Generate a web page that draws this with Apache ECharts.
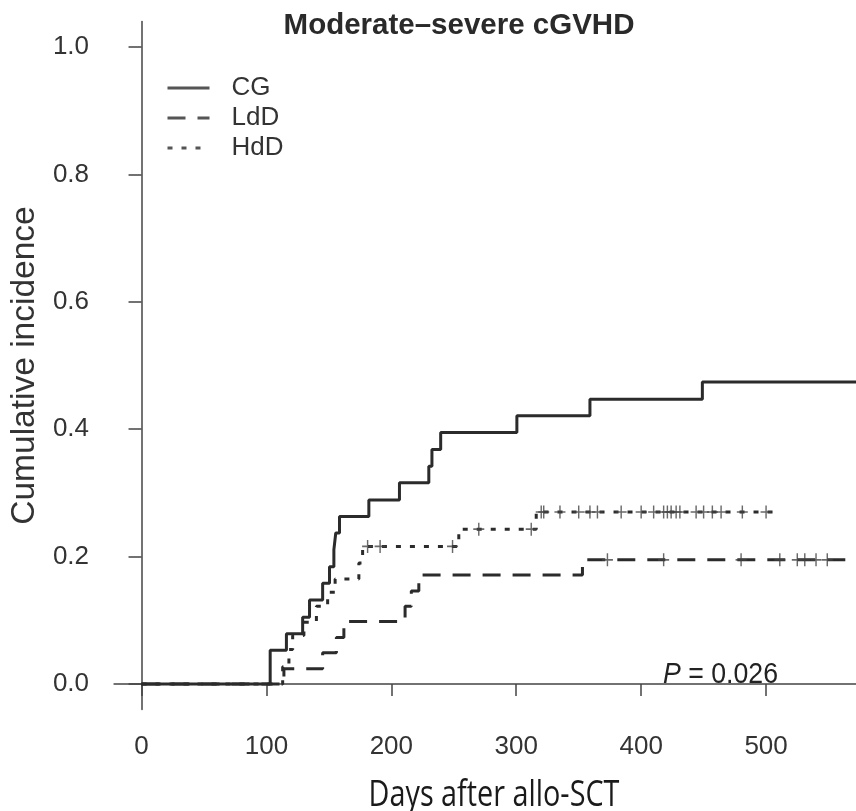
<!DOCTYPE html>
<html>
<head>
<meta charset="utf-8">
<script src="https://cdn.jsdelivr.net/npm/echarts@6/dist/echarts.min.js"></script>
<style>
html,body{margin:0;padding:0;background:#fff;}
#chart{width:856px;height:811px;}
</style>
</head>
<body>
<div id="chart"></div>
<script>
// ---- data ----
const chartTitle = 'Moderate–severe cGVHD';
const xAxisTitle = 'Days after allo-SCT';
const yAxisTitle = 'Cumulative incidence';
const groupNames = ['CG', 'LdD', 'HdD'];
const xTicks = [0, 100, 200, 300, 400, 500];
const yTicks = [0, 0.2, 0.4, 0.6, 0.8, 1.0];

const cgDays   = [0, 103, 116, 129, 134.5, 145, 150.5, 154, 155.5, 158.5, 182, 206.5, 230, 232.5, 239.5, 300.5, 359, 449, 572];
const cgValues = [0, 0.053, 0.079, 0.105, 0.132, 0.158, 0.184, 0.211, 0.237, 0.263, 0.289, 0.316, 0.342, 0.368, 0.395, 0.421, 0.447, 0.474, 0.474];

const ldDays   = [0, 114, 145, 156, 162, 211, 216, 222, 353, 565];
const ldValues = [0, 0.024, 0.049, 0.073, 0.098, 0.122, 0.146, 0.171, 0.195, 0.195];
const ldCensor = [373, 418, 480, 511, 525, 531, 540, 549];

const hdDays   = [0, 113, 118, 121, 130, 140, 149, 155, 174, 177, 254, 316, 506];
const hdValues = [0, 0.027, 0.054, 0.076, 0.097, 0.122, 0.144, 0.165, 0.19, 0.216, 0.243, 0.270, 0.270];
const hdCensor = [181, 191, 249, 270, 312, 320, 322, 335, 350, 359, 365, 384, 400, 410, 418, 421, 424, 428, 431, 444, 450, 457, 464, 481, 500];

const pText = '= 0.026';

// ---- helpers ----
function pairs(days, vals){ return days.map((d,i)=>[d, vals[i]]); }
function stepAt(days, vals, t){
  let v = vals[0];
  for (let i=0;i<days.length;i++){ if (days[i] <= t) v = vals[i]; }
  return v;
}
function censorPts(times, days, vals){ return times.map(t=>[t, stepAt(days, vals, t)]); }

const ink = '#2b2b2b';
const sans = "'Liberation Sans',Arial,sans-serif";
const plus = 'path://M4.35,0H5.65V4.35H10V5.65H5.65V10H4.35V5.65H0V4.35H4.35Z';

const chart = echarts.init(document.getElementById('chart'), null, {renderer:'canvas'});
chart.setOption({
  animation:false,
  backgroundColor:'#fff',
  title:{
    text: chartTitle, left: 454, top: 6, textAlign:'center',
    textStyle:{fontFamily:sans, fontWeight:'bold', fontSize:29.5, color:'#2a2a2a'}
  },
  legend:{
    data: groupNames, orient:'vertical', left:161, top:70,
    itemWidth:42, itemHeight:14, itemGap:4,
    itemStyle:{opacity:0},
    lineStyle:{width:3, color:'#555'},
    textStyle:{fontFamily:sans, fontSize:26, color:'#333', padding:[0,0,0,17]}
  },
  grid:{left:110, top:21.5, right:0, bottom:101.5, containLabel:false},
  xAxis:{
    type:'value', min:-22, max:572,
    axisLine:{show:true, lineStyle:{color:'#444', width:1.5}},
    axisTick:{show:true, customValues:xTicks, length:12, lineStyle:{color:'#444', width:1.5}},
    axisLabel:{customValues:xTicks, margin:24, fontFamily:sans, fontSize:26, color:'#333'},
    splitLine:{show:false}
  },
  yAxis:{
    type:'value', min:-0.04, max:1.04,
    name: yAxisTitle, nameLocation:'middle', nameGap:70,
    nameTextStyle:{fontFamily:sans, fontSize:33.5, color:'#333'},
    axisLine:{show:true, lineStyle:{color:'#444', width:1.5}},
    axisTick:{show:true, customValues:yTicks, length:13, lineStyle:{color:'#444', width:1.5}},
    axisLabel:{customValues:yTicks, margin:25, fontFamily:sans, fontSize:26, color:'#333',
      formatter:v=>v.toFixed(1)},
    splitLine:{show:false}
  },
  graphic:[{
    type:'text', x:494, y:796, scaleX:0.8, scaleY:1,
    style:{
      text: xAxisTitle, fontFamily:"'Open Sans','Noto Sans',sans-serif", fontSize:36, fill:'#1a1a1a',
      align:'center', verticalAlign:'middle'
    }
  },{
    type:'text', x:663, y:675, scaleX:0.92, scaleY:1,
    style:{
      text:'{i|P} ' + pText,
      fontFamily:sans, fontSize:29, fill:'#222', verticalAlign:'middle',
      rich:{i:{fontStyle:'italic', fontFamily:sans, fontSize:29, fill:'#222'}}
    }
  }],
  series:[
    {name:'CG', type:'line', step:'end', symbol:'none', data:pairs(cgDays,cgValues),
     itemStyle:{color:ink}, lineStyle:{color:ink, width:3, type:'solid'}, z:3},
    {name:'LdD', type:'line', step:'end', symbol:'none', data:pairs(ldDays,ldValues),
     itemStyle:{color:ink}, lineStyle:{color:ink, width:3, type:[18,12]}, z:3},
    {name:'HdD', type:'line', step:'end', symbol:'none', data:pairs(hdDays,hdValues),
     itemStyle:{color:ink}, lineStyle:{color:ink, width:3, type:[5,9]}, z:3},
    {name:'LdD censored', type:'scatter', symbol:plus, symbolSize:[11,13],
     data:censorPts(ldCensor, ldDays, ldValues), itemStyle:{color:'#444'}, z:4, silent:true},
    {name:'HdD censored', type:'scatter', symbol:plus, symbolSize:[11,13],
     data:censorPts(hdCensor, hdDays, hdValues), itemStyle:{color:'#444'}, z:4, silent:true}
  ]
});
</script>
</body>
</html>
